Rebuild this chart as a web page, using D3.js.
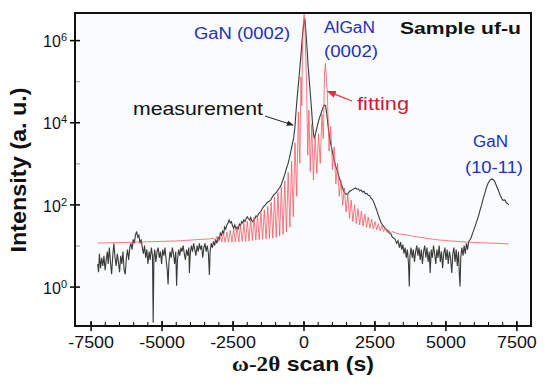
<!DOCTYPE html>
<html>
<head>
<meta charset="utf-8">
<script src="https://cdnjs.cloudflare.com/ajax/libs/d3/7.8.5/d3.min.js"></script>
<style>
  body { margin: 0; background: #fff; }
  text { font-family: Arial, "Liberation Sans", sans-serif; }
</style>
</head>
<body>
<div id="chart-area"></div>
<script>
// axis ticks
var xTicks = [-7500, -5000, -2500, 0, 2500, 5000, 7500];
var xMinorTicks = d3.range(-7500, 7501, 500);
var yTickExps = [0, 2, 4, 6];
var yMinorExps = [1, 3, 5];

// measured scan: [omega-2theta (s), log10 intensity]
var measurement = [
  [-7250,0.55],[-7220,0.35],[-7190,0.80],[-7150,0.45],[-7110,0.70],[-7070,0.50],[-7030,0.75],[-6990,0.40],
  [-6950,0.65],[-6910,0.85],[-6880,0.55],[-6840,0.95],[-6800,0.60],[-6760,0.30],[-6720,0.75],[-6680,1.05],
  [-6640,0.70],[-6600,0.50],[-6560,0.80],[-6520,0.60],[-6480,0.35],[-6440,0.75],[-6400,0.55],[-6360,0.85],
  [-6320,0.40],[-6280,0.30],[-6240,0.70],[-6200,0.90],[-6160,0.65],[-6120,0.95],[-6080,1.05],[-6040,0.90],
  [-6000,1.15],[-5960,1.05],[-5920,1.25],[-5880,1.34],[-5840,1.20],[-5800,1.25],[-5760,1.05],[-5720,1.15],
  [-5680,0.95],[-5640,0.80],[-5600,1.00],[-5560,0.70],[-5520,0.90],[-5480,0.55],[-5440,0.85],[-5400,0.65],
  [-5360,0.95],[-5320,0.75],[-5295,-0.88],[-5270,0.70],[-5240,0.90],[-5200,0.60],[-5160,0.85],[-5120,0.95],
  [-5080,0.70],[-5040,0.85],[-5000,0.55],[-4960,0.90],[-4920,0.75],[-4880,0.95],[-4840,0.65],[-4800,0.40],
  [-4770,0.05],[-4740,0.60],[-4700,0.85],[-4660,0.70],[-4620,0.95],[-4580,0.80],[-4540,0.55],[-4500,0.85],
  [-4470,0.02],[-4440,0.65],[-4400,0.90],[-4360,0.75],[-4320,0.95],[-4280,0.85],[-4240,1.00],[-4200,0.80],
  [-4160,0.65],[-4120,0.90],[-4080,0.75],[-4040,0.95],[-4020,0.33],[-3990,0.80],[-3950,1.00],[-3910,0.85],
  [-3870,1.05],[-3830,0.90],[-3790,0.75],[-3750,1.00],[-3710,0.85],[-3670,1.05],[-3630,0.90],[-3590,1.00],
  [-3550,0.70],[-3510,0.95],[-3470,1.05],[-3430,0.85],[-3390,1.00],[-3350,0.80],[-3315,0.28],[-3290,0.85],
  [-3250,1.05],[-3210,0.95],[-3170,1.10],[-3130,1.00],[-3090,1.15],[-3050,1.05],[-3010,1.20],[-2970,1.15],
  [-2930,1.30],[-2890,1.25],[-2850,1.35],[-2810,1.30],[-2780,1.45],[-2740,1.40],[-2700,1.50],[-2660,1.55],
  [-2620,1.62],[-2580,1.55],[-2540,1.58],[-2500,1.48],[-2460,1.42],[-2420,1.50],[-2380,1.40],[-2340,1.45],
  [-2300,1.40],[-2260,1.52],[-2220,1.48],[-2180,1.58],[-2140,1.55],[-2100,1.62],[-2060,1.58],[-2020,1.66],
  [-1980,1.70],[-1940,1.65],[-1900,1.62],[-1860,1.68],[-1820,1.60],[-1790,1.58],[-1750,1.62],[-1710,1.66],
  [-1670,1.72],[-1630,1.70],[-1590,1.76],[-1550,1.80],[-1500,1.83],[-1450,1.90],[-1400,1.95],[-1350,1.98],
  [-1300,2.03],[-1250,2.06],[-1200,2.08],[-1150,2.11],[-1100,2.18],[-1050,2.23],[-1000,2.26],[-950,2.30],
  [-900,2.35],[-850,2.40],[-800,2.45],[-750,2.55],[-700,2.65],[-650,2.75],[-600,2.88],[-550,2.98],
  [-500,3.12],[-450,3.28],[-400,3.45],[-350,3.60],[-300,3.90],[-270,4.20],[-230,4.55],[-190,4.85],
  [-150,5.15],[-100,5.55],[-60,5.90],[-30,6.15],[0,6.35],[30,6.48],[50,6.50],[80,6.25],
  [120,5.85],[160,5.40],[200,5.05],[240,4.70],[280,4.35],[320,3.95],[350,3.72],[380,3.62],
  [410,3.68],[450,3.80],[500,3.95],[550,4.08],[600,4.18],[650,4.28],[700,4.38],[740,4.42],
  [780,4.40],[820,4.20],[860,3.95],[900,3.72],[960,3.48],[1020,3.28],[1080,3.08],[1140,2.92],
  [1200,2.80],[1260,2.65],[1320,2.52],[1380,2.40],[1430,2.30],[1480,2.26],[1530,2.24],[1580,2.28],
  [1630,2.32],[1680,2.34],[1730,2.36],[1780,2.38],[1830,2.40],[1880,2.37],[1930,2.38],[1980,2.33],
  [2030,2.35],[2080,2.30],[2130,2.32],[2180,2.26],[2230,2.27],[2280,2.22],[2330,2.21],[2380,2.15],
  [2430,2.12],[2480,2.05],[2530,1.95],[2580,1.86],[2630,1.75],[2680,1.65],[2730,1.56],[2780,1.50],
  [2830,1.46],[2880,1.42],[2930,1.38],[2980,1.34],[3030,1.30],[3080,1.28],[3130,1.20],[3180,1.18],
  [3230,1.15],[3280,1.05],[3330,1.12],[3380,0.95],[3420,1.08],[3460,0.90],[3500,1.02],[3540,0.80],
  [3580,0.95],[3620,0.70],[3660,0.90],[3700,0.55],[3727,0.00],[3750,0.75],[3790,0.95],[3830,0.70],
  [3870,0.90],[3910,0.60],[3950,0.85],[3990,1.00],[4030,0.75],[4070,0.95],[4110,0.65],[4150,0.90],
  [4190,0.55],[4230,0.85],[4270,1.00],[4310,0.70],[4350,0.95],[4390,0.60],[4430,0.85],[4463,0.33],
  [4500,0.90],[4540,0.70],[4580,1.00],[4620,0.80],[4660,0.55],[4700,0.90],[4740,0.70],[4780,1.00],
  [4820,0.60],[4860,0.85],[4900,0.45],[4940,0.80],[4980,0.95],[5020,0.65],[5060,0.90],[5100,0.55],
  [5140,0.85],[5180,0.70],[5224,0.33],[5260,0.80],[5300,0.95],[5340,0.60],[5380,0.90],[5420,0.50],
  [5460,0.85],[5490,0.30],[5515,0.00],[5540,0.70],[5580,0.95],[5620,0.75],[5660,1.00],[5700,0.80],
  [5740,1.05],[5780,0.90],[5820,1.10],[5865,1.14],[5910,1.20],[5960,1.30],[6000,1.38],[6041,1.46],
  [6100,1.58],[6157,1.70],[6215,1.85],[6275,1.99],[6330,2.14],[6392,2.28],[6450,2.42],[6508,2.52],
  [6570,2.59],[6626,2.62],[6690,2.60],[6742,2.55],[6800,2.45],[6858,2.35],[6920,2.24],[6977,2.15],
  [7030,2.10],[7093,2.11],[7150,2.04],[7190,2.02],[7233,1.99]
];

// simulated fit with thickness fringes: [omega-2theta (s), log10 intensity]
var fitting = [
  [-7250,1.06],[-6500,1.07],[-6000,1.08],[-5500,1.09],[-5000,1.10],[-4500,1.11],[-4000,1.13],[-3600,1.15],[-3300,1.16],
  [-3180,1.18],[-3120,1.12],[-3060,1.21],[-3000,1.10],[-2940,1.25],[-2880,1.09],[-2820,1.29],[-2760,1.08],
  [-2700,1.33],[-2640,1.08],[-2580,1.37],[-2520,1.08],[-2460,1.40],[-2400,1.09],[-2340,1.45],[-2280,1.09],
  [-2220,1.49],[-2160,1.10],[-2100,1.54],[-2040,1.10],[-1980,1.59],[-1920,1.11],[-1860,1.64],[-1800,1.12],
  [-1740,1.69],[-1680,1.13],[-1620,1.75],[-1560,1.14],[-1500,1.80],[-1440,1.15],[-1380,1.87],[-1320,1.16],
  [-1260,1.95],[-1200,1.17],[-1140,2.05],[-1080,1.18],[-1020,2.17],[-960,1.20],[-900,2.29],[-840,1.23],
  [-780,2.42],[-720,1.27],[-660,2.57],[-600,1.33],[-540,2.78],[-480,1.45],[-420,3.05],[-360,1.70],
  [-300,3.50],[-240,2.20],[-180,4.25],[-130,3.00],[-90,5.10],[-60,4.40],[-35,5.80],[-15,6.25],[5,6.55],[25,6.62],
  [50,6.30],[80,5.60],[110,4.90],[150,3.20],[190,4.30],[240,2.80],[290,3.95],[350,2.60],[410,3.65],
  [470,2.75],[530,3.72],[590,3.00],[650,4.20],[700,3.60],[740,5.20],[775,5.43],[810,5.00],
  [840,4.70],[900,3.30],[960,3.90],[1020,2.85],[1080,3.40],[1140,2.50],[1200,3.00],[1260,2.20],
  [1320,2.60],[1380,1.98],[1440,2.40],[1500,1.82],[1560,2.25],[1620,1.66],[1680,2.10],[1740,1.58],
  [1800,1.99],[1860,1.54],[1920,1.90],[1980,1.50],[2040,1.84],[2100,1.47],[2160,1.76],[2220,1.44],
  [2280,1.69],[2340,1.42],[2400,1.64],[2460,1.40],[2520,1.58],[2580,1.38],[2640,1.53],[2700,1.36],
  [2760,1.48],[2820,1.34],[2880,1.43],[2940,1.32],[3000,1.38],[3060,1.30],[3120,1.34],
  [3300,1.29],[3600,1.26],[3900,1.22],[4300,1.18],[4700,1.14],[5200,1.11],[5800,1.08],[6500,1.06],[7233,1.04]
];

var margin = {top: 13, right: 19, bottom: 59, left: 75},
    width = 550 - margin.left - margin.right,
    height = 385 - margin.top - margin.bottom;

var root = d3.select("#chart-area")
  .append("svg")
    .attr("width", width + margin.left + margin.right)
    .attr("height", height + margin.top + margin.bottom);

var svg = root.append("g")
    .attr("transform", "translate(" + margin.left + "," + margin.top + ")");

var x = d3.scaleLinear()
    .domain([-8050, 8015])
    .range([0, width]);

var y = d3.scaleLog()
    .domain([Math.pow(10, -0.96), Math.pow(10, 6.66)])
    .range([height, 0]);

// plot background
svg.append("rect")
    .attr("width", width)
    .attr("height", height)
    .attr("fill", "#f9fbfc");

svg.append("clipPath")
    .attr("id", "plot-clip")
  .append("rect")
    .attr("width", width)
    .attr("height", height);

var line = d3.line()
    .x(function(d) { return x(d[0]); })
    .y(function(d) { return y(Math.pow(10, d[1])); });

// curves
svg.append("path")
    .datum(measurement)
    .attr("clip-path", "url(#plot-clip)")
    .attr("fill", "none")
    .attr("stroke", "#3a3a3a")
    .attr("stroke-width", 1.1)
    .attr("d", line);

svg.append("path")
    .datum(fitting)
    .attr("clip-path", "url(#plot-clip)")
    .attr("fill", "none")
    .attr("stroke", "#f2545e")
    .attr("stroke-opacity", 0.85)
    .attr("stroke-width", 0.9)
    .attr("d", line);

// x axis: minor inward ticks, then labelled ticks crossing the axis
svg.append("g")
    .attr("transform", "translate(0," + height + ")")
    .call(d3.axisBottom(x).tickValues(xMinorTicks).tickSize(-4).tickFormat(""))
    .call(function(g) { g.select(".domain").remove(); });

var xAxis = svg.append("g")
    .attr("transform", "translate(0," + height + ")")
    .call(d3.axisBottom(x).tickValues(xTicks).tickSize(5).tickPadding(6).tickFormat(d3.format("d")));
xAxis.select(".domain").remove();
xAxis.selectAll(".tick line").attr("y1", -5).attr("stroke-width", 1.5);
xAxis.selectAll(".tick text")
    .attr("font-size", "16px")
    .attr("fill", "#111")
    .attr("transform", "scale(1.12,1)")
    .text(function(d) { return d < 0 ? "-" + Math.abs(d) : d; });

// y axis
svg.append("g")
    .call(d3.axisLeft(y).tickValues(yMinorExps.map(function(e) { return Math.pow(10, e); })).tickSize(-5).tickFormat(""))
    .call(function(g) { g.select(".domain").remove(); })
    .selectAll(".tick line").attr("stroke", "#999");

var yAxis = svg.append("g")
    .call(d3.axisLeft(y).tickValues(yTickExps.map(function(e) { return Math.pow(10, e); })).tickSize(5).tickPadding(3));
yAxis.select(".domain").remove();
yAxis.selectAll(".tick line").attr("x1", 5).attr("stroke-width", 1.5);
yAxis.selectAll(".tick text")
    .attr("font-size", "16px")
    .attr("fill", "#111")
    .attr("dy", "0.42em")
    .each(function(d) {
      var t = d3.select(this);
      t.text("10");
      t.append("tspan")
        .attr("dy", "-0.55em")
        .attr("font-size", "11px")
        .text(Math.round(Math.log10(d)));
    });

// frame
svg.append("rect")
    .attr("width", width)
    .attr("height", height)
    .attr("fill", "none")
    .attr("stroke", "#111")
    .attr("stroke-width", 2);

// axis titles
root.append("text")
    .attr("x", 303)
    .attr("y", 371)
    .attr("text-anchor", "middle")
    .attr("font-size", "21px")
    .attr("font-weight", "bold")
    .attr("fill", "#111")
    .attr("textLength", 142)
    .attr("lengthAdjust", "spacingAndGlyphs")
    .call(function(t) {
      t.append("tspan").attr("font-family", "'Liberation Serif', 'Times New Roman', serif").text("ω-2θ");
      t.append("tspan").text(" scan (s)");
    });

root.append("text")
    .attr("transform", "translate(26,170) rotate(-90)")
    .attr("text-anchor", "middle")
    .attr("font-size", "22px")
    .attr("font-weight", "bold")
    .attr("fill", "#111")
    .attr("textLength", 165)
    .attr("lengthAdjust", "spacingAndGlyphs")
    .text("Intensity (a. u.)");

// annotations
function label(str, px, py, size, color, len, weight) {
  root.append("text")
      .attr("x", px)
      .attr("y", py)
      .attr("font-size", size + "px")
      .attr("font-weight", weight || "normal")
      .attr("fill", color)
      .attr("textLength", len)
      .attr("lengthAdjust", "spacingAndGlyphs")
      .text(str);
}

var blue = "#2230b8";
label("GaN (0002)", 194, 39, 16, blue, 96);
label("AlGaN", 324, 33, 16, blue, 51);
label("(0002)", 324, 57, 16, blue, 54);
label("GaN", 473, 147, 16, blue, 35);
label("(10-11)", 465, 173, 16, blue, 58);
label("Sample uf-u", 400, 34, 17, "#111", 121, "bold");
label("measurement", 133, 115, 19, "#111", 130);
label("fitting", 357, 110, 19, "#cc1a36", 52);

// arrows
var defs = root.append("defs");
[["arrow-black", "#222"], ["arrow-red", "#e0303e"]].forEach(function(a) {
  defs.append("marker")
      .attr("id", a[0])
      .attr("viewBox", "0 0 10 10")
      .attr("refX", 9)
      .attr("refY", 5)
      .attr("markerWidth", 7)
      .attr("markerHeight", 7)
      .attr("orient", "auto")
    .append("path")
      .attr("d", "M0,1L10,5L0,9Z")
      .attr("fill", a[1]);
});

svg.append("line")
    .attr("x1", 265 - margin.left).attr("y1", 116 - margin.top)
    .attr("x2", x(-370)).attr("y2", y(Math.pow(10, 3.93)))
    .attr("stroke", "#222")
    .attr("stroke-width", 1)
    .attr("marker-end", "url(#arrow-black)");

svg.append("line")
    .attr("x1", 352 - margin.left).attr("y1", 101 - margin.top)
    .attr("x2", x(850)).attr("y2", y(Math.pow(10, 4.75)))
    .attr("stroke", "#e0303e")
    .attr("stroke-width", 1.3)
    .attr("marker-end", "url(#arrow-red)");
</script>
</body>
</html>
